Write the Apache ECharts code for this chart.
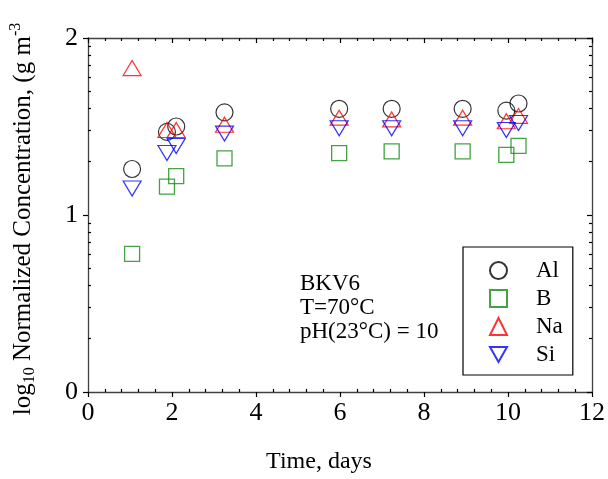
<!DOCTYPE html>
<html>
<head>
<meta charset="utf-8">
<script src="https://cdn.jsdelivr.net/npm/echarts@6/dist/echarts.min.js"></script>
<style>
  html, body { margin: 0; padding: 0; background: #fff; }
  #chart { width: 608px; height: 479px; }
</style>
</head>
<body>
<div id="chart"></div>
<script>
// Sampling times (days) shared by all elements
const days = [1.05, 1.88, 2.10, 3.25, 5.98, 7.23, 8.92, 9.96, 10.25];

// log10 normalized concentrations, g m^-3
const al = [1.26, 1.47, 1.50, 1.58, 1.60, 1.60, 1.60, 1.59, 1.63];
const b  = [0.78, 1.16, 1.22, 1.32, 1.35, 1.36, 1.36, 1.34, 1.39];
const na = [1.83, 1.48, 1.48, 1.51, 1.55, 1.54, 1.55, 1.53, 1.56];
const si = [1.15, 1.35, 1.39, 1.46, 1.49, 1.49, 1.49, 1.48, 1.52];

const seriesNames = ['Al', 'B', 'Na', 'Si'];
const xTicks = [0, 2, 4, 6, 8, 10, 12];
const yTicks = [0, 1, 2];
const noteLines = ['BKV6', 'T=70°C', 'pH(23°C) = 10'];

// minor ticks: 0.4-day steps between labelled ticks; log-decade steps on y
const xMinor = [];
for (let i = 1; i < 30; i++) { if (i % 5 !== 0) xMinor.push(+(i * 0.4).toFixed(2)); }
const yMinor = [];
for (let d = 0; d < 2; d++) { for (let k = 2; k <= 9; k++) yMinor.push(d + Math.log10(k)); }

const FONT = 'Liberation Serif';
const LINE = '#404040';

function pairs(ys) { return days.map((d, i) => [d, ys[i]]); }

const baseAxis = {
  type: 'value',
  splitLine: { show: false },
  axisLine: { show: false, onZero: false },
  axisLabel: { show: false },
  axisTick: { show: false }
};

const chart = echarts.init(document.getElementById('chart'), null, { renderer: 'canvas' });

chart.setOption({
  backgroundColor: '#fff',
  animation: false,
  grid: { left: 87, right: 13, top: 38, bottom: 86, containLabel: false },
  xAxis: [
    Object.assign({}, baseAxis, {
      position: 'bottom', min: 0, max: 12, interval: 2,
      axisLine: { show: true, onZero: false, lineStyle: { color: LINE, width: 1.3 } },
      axisTick: { show: true, inside: false, length: 5, lineStyle: { color: '#000', width: 1.2 } },
      axisLabel: { show: true, margin: 8, color: '#000', fontFamily: FONT, fontSize: 26,
                   customValues: xTicks },
      name: 'Time, days', nameLocation: 'middle', nameGap: 58,
      nameTextStyle: { color: '#000', fontFamily: FONT, fontSize: 24, padding: [0, 42, 0, 0] }
    }),
    Object.assign({}, baseAxis, {
      position: 'bottom', min: 0, max: 12,
      axisTick: { show: true, inside: true, length: 3, customValues: xMinor,
                  lineStyle: { color: '#000', width: 1.2 } }
    }),
    Object.assign({}, baseAxis, {
      position: 'top', min: 0, max: 12, interval: 2,
      axisLine: { show: true, onZero: false, lineStyle: { color: LINE, width: 1.3 } },
      axisTick: { show: true, inside: true, length: 5, lineStyle: { color: '#000', width: 1.2 } },
      minorTick: { show: true, splitNumber: 5, length: 3, lineStyle: { color: '#000', width: 1.2 } }
    })
  ],
  yAxis: [
    Object.assign({}, baseAxis, {
      position: 'left', min: 0, max: 2, interval: 1,
      axisLine: { show: true, onZero: false, lineStyle: { color: LINE, width: 1.3 } },
      axisTick: { show: true, inside: false, length: 5, lineStyle: { color: '#000', width: 1.2 } },
      axisLabel: { show: true, margin: 10, color: '#000', fontFamily: FONT, fontSize: 26,
                   customValues: yTicks },
      name: '{n|log}{s|10}{n| Normalized Concentration, (g m}{p|-3}',
      nameLocation: 'middle', nameRotate: 90, nameGap: 50,
      nameTextStyle: {
        color: '#000', fontFamily: FONT, fontSize: 25, padding: [0, 8, 0, 0],
        rich: {
          n: { fontFamily: FONT, fontSize: 25, color: '#000', lineHeight: 30, verticalAlign: 'middle' },
          s: { fontFamily: FONT, fontSize: 16, color: '#000', lineHeight: 15, verticalAlign: 'bottom' },
          p: { fontFamily: FONT, fontSize: 16, color: '#000', lineHeight: 15, verticalAlign: 'top' }
        }
      }
    }),
    Object.assign({}, baseAxis, {
      position: 'left', min: 0, max: 2,
      axisTick: { show: true, inside: true, length: 3, customValues: yMinor,
                  lineStyle: { color: '#000', width: 1.2 } }
    }),
    Object.assign({}, baseAxis, {
      position: 'right', min: 0, max: 2, interval: 1,
      axisLine: { show: true, onZero: false, lineStyle: { color: LINE, width: 1.3 } },
      axisTick: { show: true, inside: true, length: 5, lineStyle: { color: '#000', width: 1.2 } }
    }),
    Object.assign({}, baseAxis, {
      position: 'right', min: 0, max: 2,
      axisTick: { show: true, inside: true, length: 3, customValues: yMinor,
                  lineStyle: { color: '#000', width: 1.2 } }
    })
  ],
  legend: {
    orient: 'vertical',
    left: 463, top: 247,
    padding: [12, 10, 9, 26],
    itemWidth: 17, itemHeight: 17, itemGap: 5,
    borderColor: '#000', borderWidth: 1.2,
    textStyle: { color: '#000', fontFamily: FONT, fontSize: 23, padding: [0, 0, 0, 24] },
    data: [
      { name: 'Al' },
      { name: 'B' },
      { name: 'Na' },
      { name: 'Si', icon: 'path://M0,0 L20,0 L10,17.6 Z' }
    ]
  },
  graphic: [{
    type: 'text', left: 300, top: 272,
    style: { text: noteLines.join('\n'), fill: '#000', font: '23px "Liberation Serif"', lineHeight: 24 }
  }],
  series: [
    { name: seriesNames[0], type: 'scatter', data: pairs(al), symbol: 'circle', symbolSize: 17,
      itemStyle: { color: 'rgba(0,0,0,0)', borderColor: '#000', borderWidth: 1.2 } },
    { name: seriesNames[1], type: 'scatter', data: pairs(b), symbol: 'rect', symbolSize: 15,
      itemStyle: { color: 'rgba(0,0,0,0)', borderColor: '#118c11', borderWidth: 1.3 } },
    { name: seriesNames[2], type: 'scatter', data: pairs(na), symbol: 'triangle', symbolSize: [18, 15],
      itemStyle: { color: 'rgba(0,0,0,0)', borderColor: '#ff0000', borderWidth: 1.2 } },
    { name: seriesNames[3], type: 'scatter', data: pairs(si), symbol: 'triangle', symbolRotate: 180,
      symbolSize: [18, 15],
      itemStyle: { color: 'rgba(0,0,0,0)', borderColor: '#0000ff', borderWidth: 1.2 } }
  ]
});
</script>
</body>
</html>
